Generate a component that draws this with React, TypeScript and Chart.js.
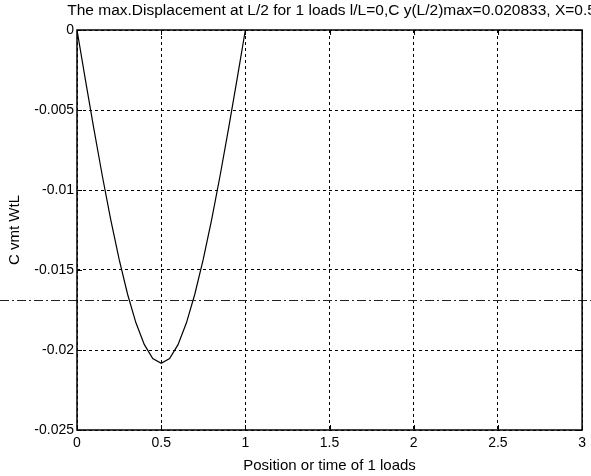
import React, { useEffect, useRef } from "react";
import { Chart, registerables } from "chart.js";

Chart.register(...registerables);

const positions = [0, 0.05, 0.1, 0.15, 0.2, 0.25, 0.3, 0.35, 0.4, 0.45, 0.5, 0.55, 0.6, 0.65, 0.7, 0.75, 0.8, 0.85, 0.9, 0.95, 1];
const displacement = [
  0, -0.003115, -0.006167, -0.009094, -0.011833, -0.014323, -0.0165, -0.018302, -0.019667, -0.020531,
  -0.020833,
  -0.020531, -0.019667, -0.018302, -0.0165, -0.014323, -0.011833, -0.009094, -0.006167, -0.003115, 0,
];
const xTickValues = [0, 0.5, 1, 1.5, 2, 2.5, 3];
const xTickLabels = ["0", "0.5", "1", "1.5", "2", "2.5", "3"];
const yTickValues = [0, -0.005, -0.01, -0.015, -0.02, -0.025];
const yTickLabels = ["0", "-0.005", "-0.01", "-0.015", "-0.02", "-0.025"];
const referenceLevel = [-0.0169];
const titleText = "The max.Displacement at L/2 for 1 loads l/L=0,C y(L/2)max=0.020833, X=0.5";
const xTitle = "Position or time of 1 loads";
const yTitle = "C vmt WtL";

const FONT = "'Liberation Sans', Arial, Helvetica, sans-serif";

export default function App() {
  const ref = useRef<HTMLCanvasElement | null>(null);

  useEffect(() => {
    document.body.style.margin = "0";
    const canvas = ref.current;
    if (!canvas) return;

    const decor = {
      id: "decor",
      afterDraw(chart: any) {
        const { ctx, chartArea } = chart;
        const { left, right, top, bottom } = chartArea;
        const xs = chart.scales.x;
        const ys = chart.scales.y;
        ctx.save();
        referenceLevel.forEach((v) => {
          const py = Math.round(ys.getPixelForValue(v)) + 0.5;
          ctx.strokeStyle = "#222";
          ctx.lineWidth = 1;
          ctx.setLineDash([9, 3, 2, 3]);
          ctx.beginPath();
          ctx.moveTo(0, py);
          ctx.lineTo(chart.width, py);
          ctx.stroke();
        });
        ctx.setLineDash([]);
        ctx.strokeStyle = "#000";
        ctx.lineWidth = 1.5;
        ctx.strokeRect(left, top, right - left, bottom - top);
        ctx.lineWidth = 1;
        ctx.beginPath();
        xTickValues.forEach((v) => {
          const px = Math.round(xs.getPixelForValue(v)) + 0.5;
          ctx.moveTo(px, bottom);
          ctx.lineTo(px, bottom - 5);
          ctx.moveTo(px, top);
          ctx.lineTo(px, top + 5);
        });
        yTickValues.forEach((v) => {
          const py = Math.round(ys.getPixelForValue(v)) + 0.5;
          ctx.moveTo(left, py);
          ctx.lineTo(left + 5, py);
          ctx.moveTo(right, py);
          ctx.lineTo(right - 5, py);
        });
        ctx.stroke();
        ctx.fillStyle = "#000";
        ctx.font = `15.5px ${FONT}`;
        ctx.textAlign = "center";
        ctx.textBaseline = "middle";
        ctx.fillText(titleText, (left + right) / 2 + 2, 11);
        ctx.restore();
      },
    };

    const chart = new Chart(canvas, {
      type: "line",
      data: {
        datasets: [
          {
            data: positions.map((x, i) => ({ x, y: displacement[i] })),
            borderColor: "#000",
            borderWidth: 1.2,
            pointRadius: 0,
            tension: 0,
            fill: false,
          },
        ],
      },
      options: {
        animation: false,
        responsive: false,
        maintainAspectRatio: false,
        layout: { padding: { top: 30, right: 8, left: 0, bottom: 0 } },
        plugins: {
          legend: { display: false },
          title: { display: false },
          tooltip: { enabled: false },
        },
        scales: {
          x: {
            type: "linear",
            min: 0,
            max: 3,
            afterFit: (s: any) => {
              s.height = 46;
            },
            afterBuildTicks: (s: any) => {
              s.ticks = xTickValues.map((v) => ({ value: v }));
            },
            ticks: {
              color: "#000",
              font: { family: FONT, size: 14 },
              padding: 5,
              maxRotation: 0,
              callback: (v: any) => {
                const i = xTickValues.findIndex((t) => Math.abs(t - Number(v)) < 1e-9);
                return i >= 0 ? xTickLabels[i] : "";
              },
            },
            grid: {
              color: "#000",
              lineWidth: 1,
              drawTicks: false,
            },
            border: { display: false, dash: [3, 3] },
            title: {
              display: true,
              text: xTitle,
              color: "#000",
              font: { family: FONT, size: 15 },
              padding: { top: 0, bottom: 1 },
            },
          },
          y: {
            type: "linear",
            min: -0.025,
            max: 0,
            afterFit: (s: any) => {
              s.width = 77;
            },
            afterBuildTicks: (s: any) => {
              s.ticks = yTickValues.map((v) => ({ value: v }));
            },
            ticks: {
              color: "#000",
              font: { family: FONT, size: 14 },
              padding: 3,
              callback: (v: any) => {
                const i = yTickValues.findIndex((t) => Math.abs(t - Number(v)) < 1e-9);
                return i >= 0 ? yTickLabels[i] : "";
              },
            },
            grid: {
              color: "#000",
              lineWidth: 1,
              drawTicks: false,
            },
            border: { display: false, dash: [3, 3] },
            title: {
              display: true,
              text: yTitle,
              color: "#000",
              font: { family: FONT, size: 15 },
              padding: { top: 6, bottom: 0 },
            },
          },
        },
      },
      plugins: [decor],
    });

    return () => chart.destroy();
  }, []);

  return (
    <div style={{ position: "relative", width: 591, height: 476, background: "#fff" }}>
      <canvas ref={ref} width={591} height={476} style={{ display: "block" }} />
    </div>
  );
}
